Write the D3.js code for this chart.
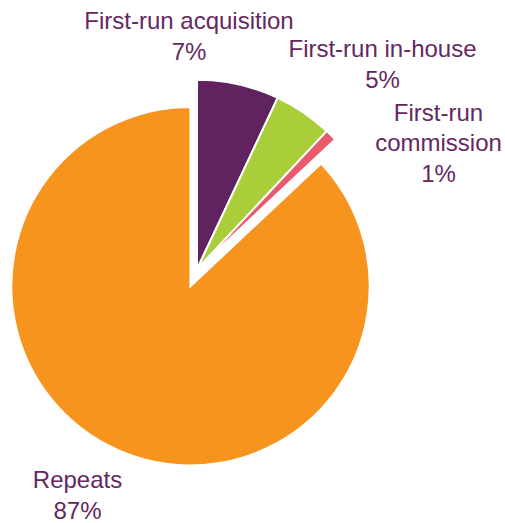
<!DOCTYPE html>
<html>
<head>
<meta charset="utf-8">
<script src="https://cdn.jsdelivr.net/npm/d3@7"></script>
<style>
  html, body { margin: 0; padding: 0; background: #ffffff; }
  svg { display: block; }
</style>
</head>
<body>
<svg id="chart" width="505" height="523"></svg>
<script>
// Share of programming hours by type (%)
const categories = ["First-run acquisition", "First-run in-house", "First-run commission", "Repeats"];
const values = [7, 5, 1, 87];
const labelLines = [["First-run acquisition"], ["First-run in-house"], ["First-run", "commission"], ["Repeats"]];
const colors = ["#612360", "#a9ce3a", "#e85a6c", "#f7941e"];
const firstRun = [true, true, true, false];

// Layout
const width = 505, height = 523;
const center = [190.5, 286.2];
const radius = 179.2;          // main pie
const pulledRadius = 189.5;    // first-run slices, pulled out as one group
const pullOffset = [6.5, -17];
const textColor = "#65275f";
const fontSize = 24;
const lineHeight = 30.5;
// label anchor: middle of the first text line, at its baseline
const labelAnchors = [[189, 29.3], [382.5, 57.3], [438.5, 120.5], [77.5, 488]];

const svg = d3.select("#chart");

const pie = d3.pie().sort(null).value(d => d).startAngle(0).endAngle(2 * Math.PI);
const arcs = pie(values);

const arcMain = d3.arc().innerRadius(0).outerRadius(radius);
const arcPulled = d3.arc().innerRadius(0).outerRadius(pulledRadius);

const slices = svg.append("g").attr("class", "slices");

slices.selectAll("path")
  .data(arcs)
  .join("path")
  .attr("transform", (d, i) => firstRun[i]
    ? `translate(${center[0] + pullOffset[0]},${center[1] + pullOffset[1]})`
    : `translate(${center[0]},${center[1]})`)
  .attr("d", (d, i) => firstRun[i] ? arcPulled(d) : arcMain(d))
  .attr("fill", (d, i) => colors[i])
  .attr("stroke", "#ffffff")
  .attr("stroke-width", 2)
  .attr("stroke-linejoin", "miter");

// Category labels with percentage on the last line
const labels = svg.append("g")
  .attr("class", "labels")
  .attr("font-family", "'Liberation Sans', Arial, sans-serif")
  .attr("font-size", fontSize)
  .attr("fill", textColor)
  .attr("text-anchor", "middle");

arcs.forEach((d, i) => {
  const lines = labelLines[i].concat([d3.format(".0f")(values[i]) + "%"]);
  const t = labels.append("text")
    .attr("x", labelAnchors[i][0])
    .attr("y", labelAnchors[i][1]);
  lines.forEach((line, j) => {
    t.append("tspan")
      .attr("x", labelAnchors[i][0])
      .attr("y", labelAnchors[i][1] + j * lineHeight)
      .text(line);
  });
});
</script>
</body>
</html>
